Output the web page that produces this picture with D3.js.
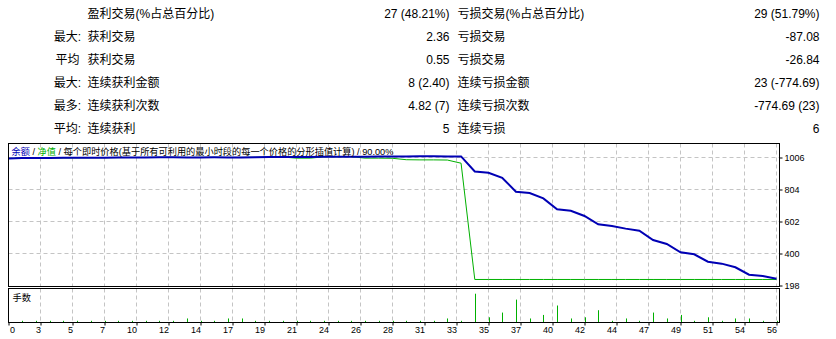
<!DOCTYPE html>
<html>
	<head>
		<meta charset="UTF-8" />
		<title>测试报告 - 余额 / 净值</title>
		<script src="https://cdn.jsdelivr.net/npm/d3@7"></script>

		<style>
			body {
				margin: 0;
				background: #fff;
			}
			svg {
				display: block;
				width: 836px;
				height: 339px;
			}
			text {
				font-family: "Liberation Sans", "Noto Sans CJK SC", sans-serif;
				fill: #000;
			}
		</style>
	</head>
	<body>
		<svg width="836" height="339"></svg>

		<script>
			// stats table
			const rowPrefix = ["", "最大:", "平均", "最大:", "最多:", "平均:"];
			const winLabels = ["盈利交易(%占总百分比)", "获利交易", "获利交易", "连续获利金额", "连续获利次数", "连续获利"];
			const winValues = ["27 (48.21%)", "2.36", "0.55", "8 (2.40)", "4.82 (7)", "5"];
			const lossLabels = ["亏损交易(%占总百分比)", "亏损交易", "亏损交易", "连续亏损金额", "连续亏损次数", "连续亏损"];
			const lossValues = ["29 (51.79%)", "-87.08", "-26.84", "23 (-774.69)", "-774.69 (23)", "6"];

			// balance / equity per trade (index 0 = deposit)
			const balance = [
				1000, 1002.4, 1002.9, 1003.3, 1003.8, 1004.2, 1004.6, 1005.1, 1005.5, 1005.9,
				1006.4, 1006.8, 1007.2, 1006.1, 1006.6, 1007.0, 1006.2, 1006.5, 1007.0, 1008.4,
				1008.9, 1009.3, 1009.8, 1010.2, 1010.6, 1011.1, 1011.5, 1011.9, 1012.4, 1012.8,
				1013.2, 1013.6, 1012.3, 1012.8, 918, 910, 878, 790, 782, 748,
				679, 670, 637, 584, 574, 557, 544, 485, 460, 408,
				395, 348, 336, 313, 266, 258, 241,
			];
			const equity = [
				1000, 1002.4, 1002.9, 1003.3, 1003.8, 1004.2, 1004.6, 1005.1, 1005.5, 1005.9,
				1006.4, 1006.8, 1007.2, 1006.1, 1006.6, 1007.0, 1006.2, 1006.5, 1007.0, 1008.4,
				1008.9, 1002, 1002, 1010.2, 1010.6, 1011.1, 1002, 1002, 1001, 992,
				991, 991, 990, 970, 236, 236, 236, 236, 236, 236,
				236, 236, 236, 236, 236, 236, 236, 236, 236, 236,
				236, 236, 236, 236, 236, 236, 236,
			];
			// lots per trade
			const lots = [
				null, 0.01, 0.01, 0.01, 0.01, 0.01, 0.01, 0.01, 0.01, 0.01,
				0.01, 0.01, 0.01, 0.03, 0.01, 0.01, 0.03, 0.03, 0.01, 0.01,
				0.01, 0.01, 0.01, 0.01, 0.01, 0.01, 0.01, 0.01, 0.01, 0.01,
				0.01, 0.01, 0.03, 0.01, 0.24, 0.04, 0.08, 0.19, 0.03, 0.06,
				0.14, 0.03, 0.04, 0.1, 0.01, 0.03, 0.01, 0.08, 0.03, 0.06,
				0.01, 0.04, 0.01, 0.03, 0.03, 0.01, 0.01,
			];
			const xTickLabels = [0, 3, 5, 7, 10, 12, 14, 17, 19, 21, 24, 26, 28, 31, 33, 35, 37, 40, 42, 44, 47, 49, 51, 54, 56];
			const yTickValues = [198, 400, 602, 804, 1006];

			const blue = "#0000b4";
			const green = "#00b000";

			const svg = d3.select("svg");

			// ---- table ----
			let rowY = d3.scaleLinear().domain([0, 5]).range([17.5, 132.5]);
			let rows = svg.selectAll("g.row").data(d3.range(6)).enter().append("g").attr("class", "row");
			rows.append("text").text((i) => rowPrefix[i]).attr("x", (i) => (rowPrefix[i].endsWith(":") ? 81 : 79.5)).attr("y", rowY).attr("text-anchor", "end").style("font-size", "12px");
			rows.append("text").text((i) => winLabels[i]).attr("x", 87.5).attr("y", rowY).style("font-size", "12px");
			rows.append("text").text((i) => winValues[i]).attr("x", 449.5).attr("y", rowY).attr("text-anchor", "end").style("font-size", "12px");
			rows.append("text").text((i) => lossLabels[i]).attr("x", 457.5).attr("y", rowY).style("font-size", "12px");
			rows.append("text").text((i) => lossValues[i]).attr("x", 819.5).attr("y", rowY).attr("text-anchor", "end").style("font-size", "12px");

			// ---- scales ----
			const plotLeft = 8.5,
				plotRight = 779.5,
				plotTop = 143.5,
				mainBottom = 286.5,
				volTop = 288.5,
				volBottom = 322.5;

			let x = d3.scaleLinear().domain([0, 56]).range([plotLeft, 776.5]);
			let xGrid = d3.scalePoint().domain(xTickLabels).range([plotLeft, 776.5]);
			let y = d3.scaleLinear().domain([198, 1006]).range([285.5, 157.5]);
			let v = d3.scaleLinear().domain([0, 0.28]).range([322, 289]);

			// grid
			const gridStyle = (sel) => sel.attr("stroke", "#c4c4c4").attr("stroke-dasharray", "4,3").attr("stroke-width", 1);
			svg.append("g")
				.selectAll("line")
				.data(yTickValues.slice(1))
				.enter()
				.append("line")
				.attr("x1", plotLeft)
				.attr("x2", plotRight)
				.attr("y1", (d) => y(d))
				.attr("y2", (d) => y(d))
				.call(gridStyle);
			svg.append("g")
				.selectAll("line")
				.data(xTickLabels.slice(1))
				.enter()
				.append("line")
				.attr("x1", (d) => xGrid(d))
				.attr("x2", (d) => xGrid(d))
				.attr("y1", plotTop)
				.attr("y2", mainBottom)
				.call(gridStyle);
			svg.append("g")
				.selectAll("line")
				.data(xTickLabels.slice(1))
				.enter()
				.append("line")
				.attr("x1", (d) => xGrid(d))
				.attr("x2", (d) => xGrid(d))
				.attr("y1", volTop)
				.attr("y2", volBottom)
				.call(gridStyle);

			// equity then balance
			let line = d3
				.line()
				.x((d, i) => x(i))
				.y((d) => y(d));
			svg.append("path").datum(equity).attr("d", line).attr("fill", "none").attr("stroke", green).attr("stroke-width", 1);
			svg.append("path").datum(balance).attr("d", line).attr("fill", "none").attr("stroke", blue).attr("stroke-width", 2);

			// lots
			svg.append("g")
				.selectAll("rect")
				.data(lots.map((d, i) => ({ i, d })).filter((o) => o.d != null))
				.enter()
				.append("rect")
				.attr("x", (o) => Math.round(x(o.i)))
				.attr("width", 1)
				.attr("y", (o) => v(o.d))
				.attr("height", (o) => v(0) - v(o.d))
				.attr("fill", green);

			// frames
			svg.append("rect").attr("x", plotLeft).attr("y", plotTop).attr("width", plotRight - plotLeft).attr("height", mainBottom - plotTop).attr("fill", "none").attr("stroke", "#000");
			svg.append("rect").attr("x", plotLeft).attr("y", volTop).attr("width", plotRight - plotLeft).attr("height", volBottom - volTop).attr("fill", "none").attr("stroke", "#000");

			// axes
			let yAxis = svg
				.append("g")
				.attr("transform", `translate(${plotRight},0)`)
				.call(d3.axisRight(y).tickValues(yTickValues).tickFormat(d3.format("d")).tickSize(3).tickPadding(2));
			let xAxis = svg
				.append("g")
				.attr("transform", `translate(0,${volBottom})`)
				.call(d3.axisBottom(xGrid).tickSize(3).tickPadding(1));
			[yAxis, xAxis].forEach((a) => {
				a.select(".domain").remove();
				a.selectAll("text").style("font-size", "9px").style("font-family", '"Liberation Sans", sans-serif').attr("fill", "#000");
			});
			xAxis.selectAll(".tick text").attr("text-anchor", (d, i) => (i === 0 ? "start" : "end")).attr("x", (d, i) => (i === 0 ? 1 : 0));

			// legend
			let legend = svg.append("text").attr("x", 11.5).attr("y", 154.5).style("font-size", "9.2px");
			legend.append("tspan").text("余额").attr("fill", blue);
			legend.append("tspan").text(" / ");
			legend.append("tspan").text("净值").attr("fill", green);
			legend.append("tspan").text(" / 每个即时价格(基于所有可利用的最小时段的每一个价格的分形插值计算) / 90.00%");

			svg.append("text").text("手数").attr("x", 12.5).attr("y", 301).style("font-size", "9.2px");
		</script>
	</body>
</html>
